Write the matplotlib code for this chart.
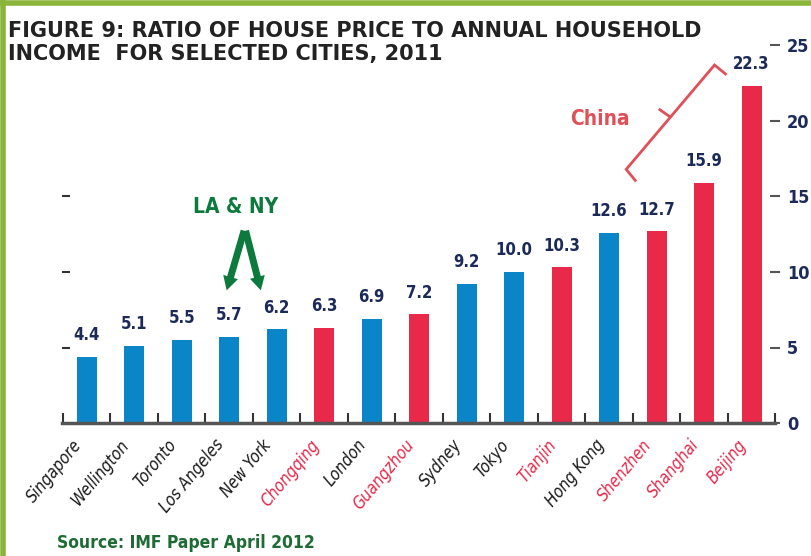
import matplotlib.pyplot as plt
from matplotlib.lines import Line2D
from matplotlib.transforms import ScaledTranslation

cities = ["Singapore", "Wellington", "Toronto", "Los Angeles", "New York", "Chongqing",
          "London", "Guangzhou", "Sydney", "Tokyo", "Tianjin", "Hong Kong",
          "Shenzhen", "Shanghai", "Beijing"]
ratios = [4.4, 5.1, 5.5, 5.7, 6.2, 6.3, 6.9, 7.2, 9.2, 10.0, 10.3, 12.6, 12.7, 15.9, 22.3]
china = [False, False, False, False, False, True, False, True, False, False, True,
         False, True, True, True]

blue = "#0a86c8"
red = "#e8294a"
navy = "#1c2a5a"
cond = dict(family="DejaVu Sans", fontstretch="condensed")

fig = plt.figure(figsize=(8.11, 5.56), dpi=100)
ax = fig.add_axes([0.0765, 0.239, 0.8795, 0.68])

x = list(range(len(cities)))
colors = [red if c else blue for c in china]
ax.bar(x, ratios, width=0.42, color=colors, zorder=2)

for xi, v in zip(x, ratios):
    ax.annotate(f"{v:.1f}", (xi, v), xytext=(0, 9), textcoords="offset points",
                ha="center", va="bottom", fontsize=12, color=navy,
                fontweight="bold", **cond)

ax.set_xlim(-0.52, 14.37)
ax.set_ylim(0, 25)

# x axis: city names drawn as texts, ticks between bars
ax.set_xticks([])
shift = ScaledTranslation(-0.15, -0.13, fig.dpi_scale_trans)
for xi, name, c in zip(x, cities, china):
    ax.text(xi, 0, name, transform=ax.get_xaxis_transform() + shift,
            rotation=50, ha="right", va="top", rotation_mode="anchor",
            fontsize=12, style="italic", color=red if c else "#1a1a1a", **cond)
ax.set_xticks([i - 0.5 for i in range(len(cities) + 1)], minor=True)
ax.tick_params(axis="x", which="minor", direction="in", length=7, width=1.5, color="#333333")

for s in ["top", "right", "left"]:
    ax.spines[s].set_visible(False)
ax.spines["bottom"].set_color("#555555")
ax.spines["bottom"].set_linewidth(2.5)

# left dashes without labels
ax.set_yticks([5, 10, 15])
ax.set_yticklabels([])
ax.tick_params(axis="y", direction="in", length=6, width=1.5, color="#333333")

# right axis with labels
ax2 = ax.twinx()
ax2.set_ylim(0, 25)
for s in ["top", "right", "left", "bottom"]:
    ax2.spines[s].set_visible(False)
ax2.set_yticks([0, 5, 10, 15, 20, 25])
ax2.set_yticklabels(["0", "5", "10", "15", "20", "25"], fontsize=13,
                    color=navy, fontweight="bold", **cond)
ax2.tick_params(axis="y", direction="inout", length=7, width=1.5, color="#555555", pad=5)

# LA & NY annotation
green = "#0c7a3c"
ax.text(3.13, 14.3, "LA & NY", ha="center", va="center", fontsize=15,
        fontweight="bold", color=green, **cond)
for tx in [2.93, 3.68]:
    ax.annotate("", xy=(tx, 8.6), xytext=(3.33, 12.9),
                arrowprops=dict(arrowstyle="simple,head_width=1.1,head_length=1.0,tail_width=0.5",
                                color=green, lw=0))

# China bracket
cr = "#e05058"
ax.plot([11.55, 11.36, 13.22, 13.45], [16.05, 16.78, 23.68, 23.09],
        color=cr, lw=2, clip_on=False, solid_joinstyle="miter")
ax.plot([12.28, 12.07], [20.26, 20.72], color=cr, lw=2, clip_on=False)
ax.text(10.8, 20.1, "China", ha="center", va="center", fontsize=15,
        fontweight="bold", color=cr, **cond)

# title and source
fig.text(0.010, 0.962, "FIGURE 9: RATIO OF HOUSE PRICE TO ANNUAL HOUSEHOLD\nINCOME  FOR SELECTED CITIES, 2011",
         ha="left", va="top", fontsize=15, fontweight="bold", color="#222222",
         linespacing=1.2)
fig.text(0.07, 0.024, "Source: IMF Paper April 2012", ha="left", va="center",
         fontsize=12.5, fontweight="bold", color="#1e6b35", **cond)

# green frame (left and top)
fig.add_artist(Line2D([0.004, 0.004], [0, 1], transform=fig.transFigure,
                      color="#8bb43a", lw=4))
fig.add_artist(Line2D([0, 1], [0.995, 0.995], transform=fig.transFigure,
                      color="#8bb43a", lw=4))

fig.savefig("out.png", dpi=100)
